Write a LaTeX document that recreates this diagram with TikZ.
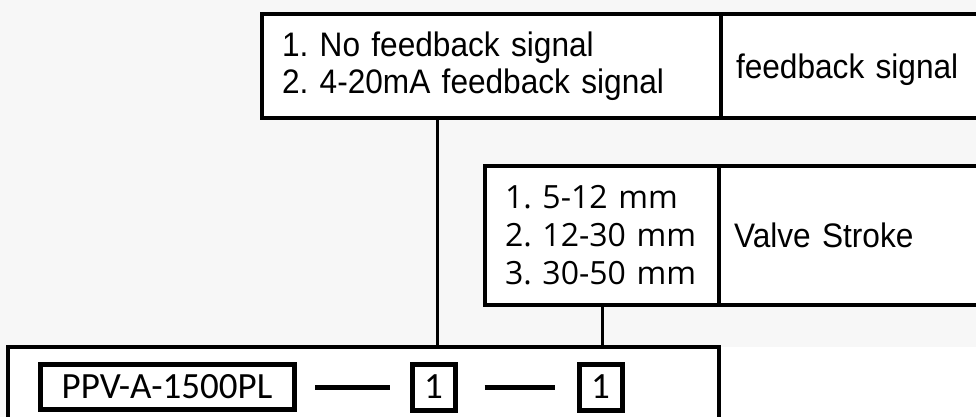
\documentclass[tikz,border=0pt]{standalone}
\usepackage{fontspec}
\setmainfont[FakeStretch=0.93]{Liberation Sans}
\newfontfamily\codefont{Carlito}
\newfontfamily\listfont{Open Sans}
\usetikzlibrary{positioning}
\definecolor{paper}{HTML}{F7F7F7}
\tikzstyle{cell} = [rectangle, draw=black, line width=4.5pt, fill=white, outer sep=0pt, inner sep=0pt, minimum height=104pt, font=\fontsize{34}{37}\selectfont]
\tikzstyle{optcell} = [cell, align=left, text width=419pt, minimum width=459pt]
\tikzstyle{namecell} = [cell, align=left, text width=250pt, minimum width=280pt, text depth=0pt]
\tikzstyle{codebox} = [rectangle, draw=black, line width=5pt, fill=white, outer sep=0pt, inner sep=0pt, minimum height=45pt, font=\codefont\fontsize{37}{40}\selectfont]
\tikzstyle{link} = [line width=3.3pt]
\tikzstyle{dashline} = [line width=5pt]

\begin{document}
\frenchspacing
\begin{tikzpicture}[x=1pt, y=-1pt]
\useasboundingbox [fill=paper] (0,0) rectangle (976,417);
\fill [white] (719,347) rectangle (976,417);

\node (fbopt) [optcell] at (491.5,66) {1. No feedback signal\\2. 4-20mA feedback signal};
\node (fbname) [namecell, right=0pt of fbopt] {feedback signal};

\node (strokeopt) [optcell, minimum width=234pt, text width=194pt, minimum height=139pt, font=\listfont\fontsize{32}{38}\selectfont] at (602,235.5) {1. 5-12 mm\\2. 12-30 mm\\3. 30-50 mm};
\node (strokename) [namecell, minimum height=139pt, right=0pt of strokeopt] {Valve Stroke};

\node (base) [cell, minimum width=711pt, minimum height=93pt] at (363.5,393.5) {};
\node (model) [codebox, minimum width=254pt] at (167,387) {PPV-A-1500PL};
\node (slot1) [codebox, minimum width=43pt, minimum height=46pt, right=118pt of model] {1};
\node (slot2) [codebox, minimum width=43pt, minimum height=46pt, right=124pt of slot1] {1};

\draw [dashline] ([xshift=21pt]model.east) -- ([xshift=-22.5pt]slot1.west);
\draw [dashline] ([xshift=29.5pt]slot1.east) -- ([xshift=-24.5pt]slot2.west);

\draw [link] ([xshift=4pt]slot1.center |- fbopt.south) -- ([xshift=4pt]slot1.center |- base.north);
\draw [link] ([xshift=2pt]slot2.center |- strokeopt.south) -- ([xshift=2pt]slot2.center |- base.north);

\end{tikzpicture}
\end{document}
